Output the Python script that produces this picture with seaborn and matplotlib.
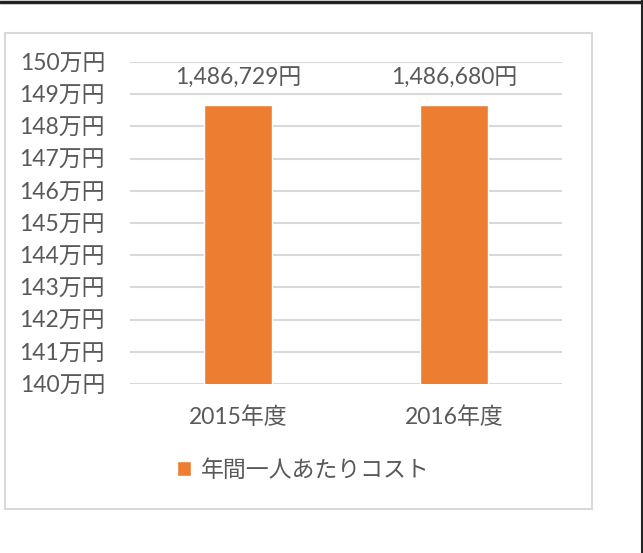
import matplotlib.pyplot as plt
import seaborn as sns
import pandas as pd
from matplotlib.patches import Rectangle
from matplotlib.lines import Line2D

years = ['2015年度', '2016年度']
costs = [1486729, 1486680]
series = '年間一人あたりコスト'
y_ticks = list(range(1400000, 1500001, 10000))

df = pd.DataFrame({'year': years, 'cost': costs, 'series': series})

sns.set_theme(style='white')
plt.rcParams['font.family'] = ['Lato', 'Noto Sans CJK JP', 'DejaVu Sans']

W, H = 643, 553
fig = plt.figure(figsize=(W / 100, H / 100), dpi=100)
ax = fig.add_axes([130 / W, 1 - 384 / H, 432 / W, 322 / H])

txt = '#595959'
grid = '#D9D9D9'
fs = 16.5

sns.barplot(data=df, x='year', y='cost', hue='series', palette=['#ED7D31'],
            saturation=1, width=0.315, dodge=False, ax=ax, legend=True)

ax.set_ylim(1400000, 1500000)
ax.set_yticks(y_ticks)
ax.set_yticklabels([f'{v // 10000}万円' for v in y_ticks])
ax.set_xlim(-0.5, 1.5)
ax.set_xlabel('')
ax.set_ylabel('')
ax.yaxis.grid(True, color=grid, linewidth=1.5)
ax.set_axisbelow(True)
for s in ax.spines.values():
    s.set_visible(False)
ax.tick_params(axis='y', length=0, pad=18, labelsize=fs, labelcolor=txt)
ax.tick_params(axis='x', length=0, pad=16, labelsize=fs, labelcolor=txt)

for i, c in enumerate(costs):
    ax.annotate(f'{c:,}円', (i, 1500000), xytext=(0, -12), textcoords='offset points',
                ha='center', va='center', fontsize=fs, color=txt)

ax.legend(loc='center', bbox_to_anchor=(303 / W, 1 - 470 / H),
          bbox_transform=fig.transFigure, frameon=False, fontsize=fs,
          labelcolor=txt, handlelength=0.65, handleheight=0.65, handletextpad=0.4)

# outer chart frame
fig.add_artist(Rectangle((5 / W, 1 - 509 / H), 587 / W, 476 / H, transform=fig.transFigure,
                         fill=False, edgecolor=grid, linewidth=1.5))
# dark cell border at top and right
fig.add_artist(Line2D([0, 1], [1 - 1.5 / H, 1 - 1.5 / H], transform=fig.transFigure,
                      color='#222222', linewidth=2.5))
fig.add_artist(Line2D([641.5 / W, 641.5 / W], [0, 1], transform=fig.transFigure,
                      color='#222222', linewidth=1.5))

fig.savefig('out.png', dpi=100)
